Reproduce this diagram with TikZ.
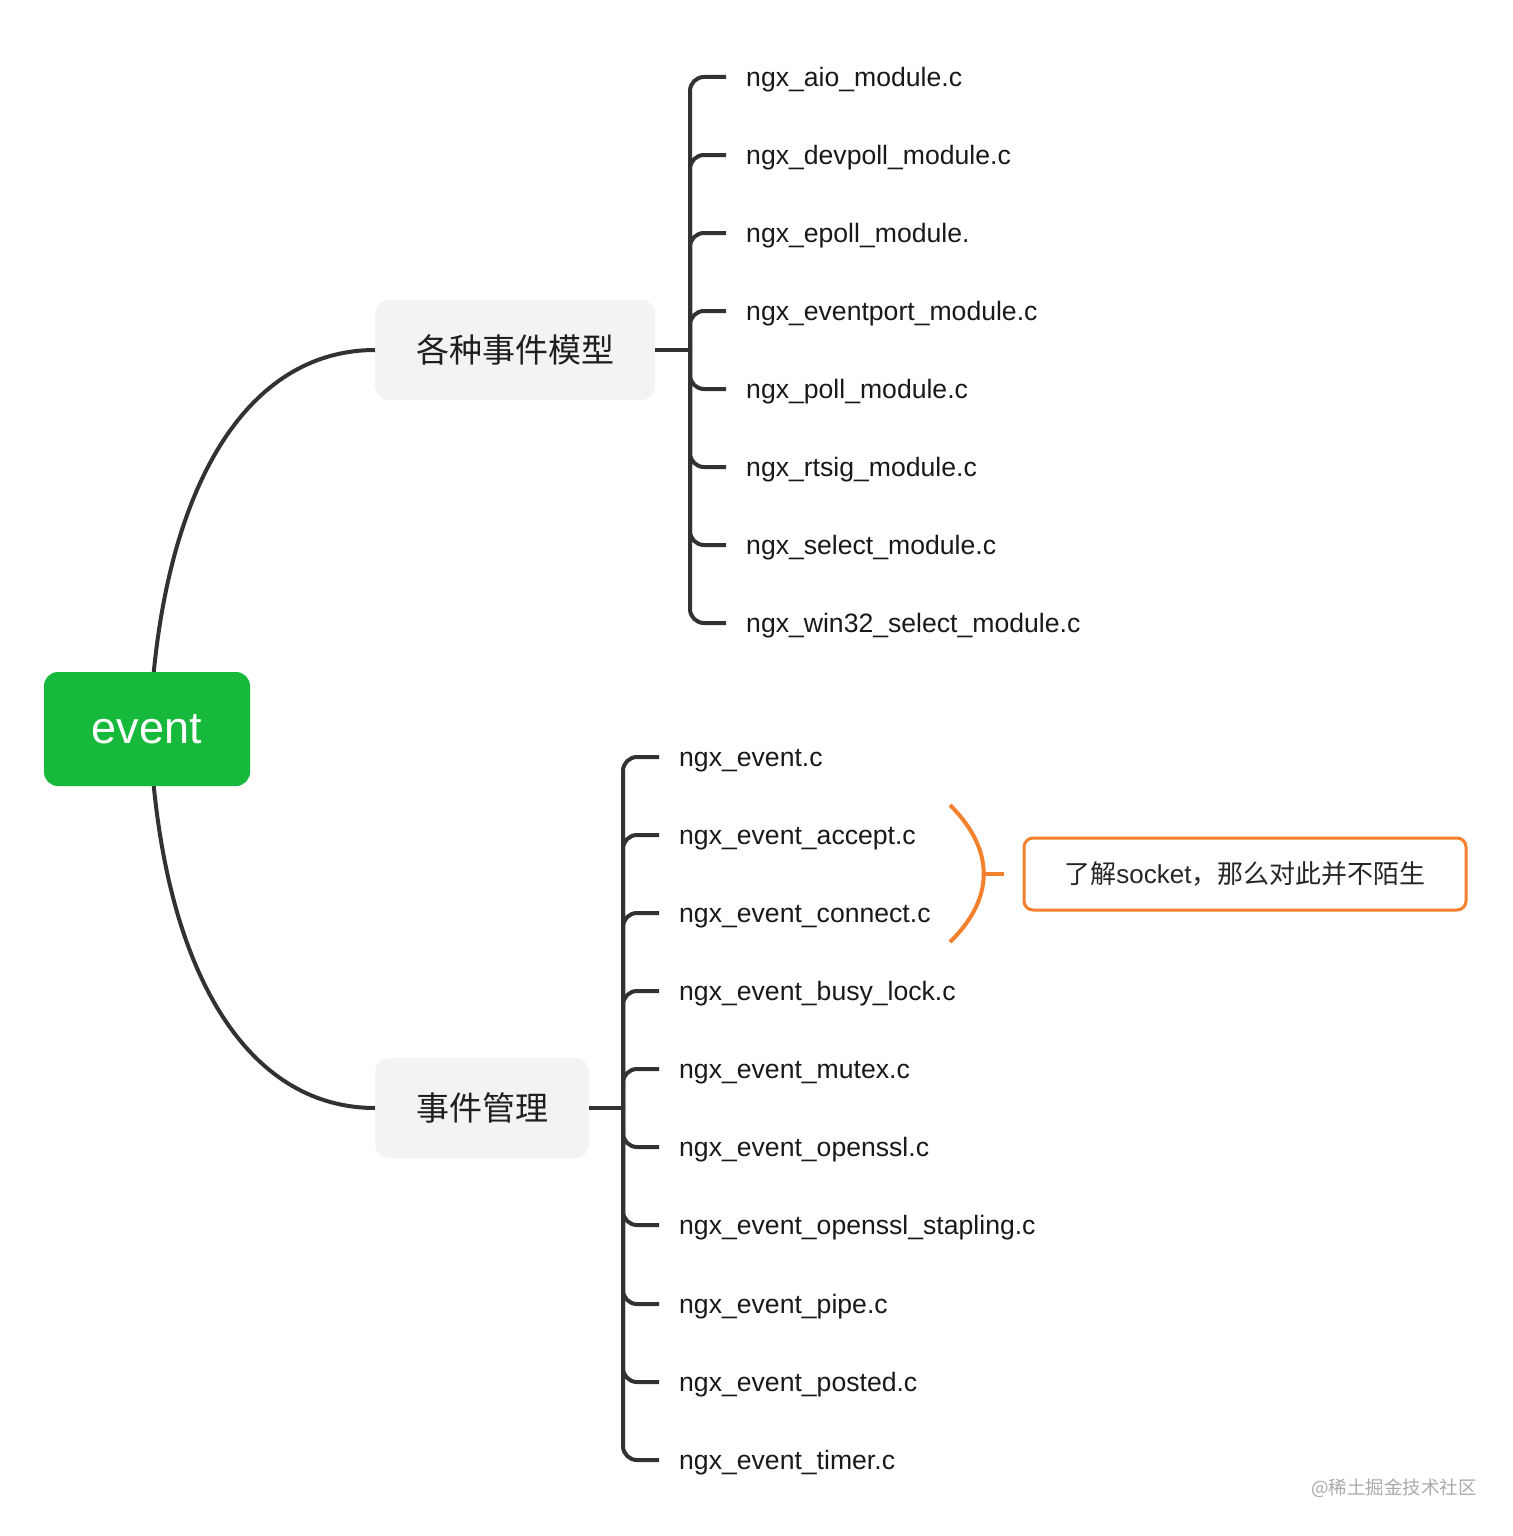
\documentclass[tikz,border=0pt]{standalone}
\usepackage{fontspec}
\setmainfont{Liberation Sans}
\newfontfamily\cjk{Noto Sans CJK SC}
\usetikzlibrary{positioning}
\definecolor{evgreen} {RGB}{22,185,60}
\definecolor{evtopic} {RGB}{242,243,245}
\definecolor{evline}  {RGB}{50,50,50}
\definecolor{evnote}  {RGB}{242,128,44}
\definecolor{evmark}  {RGB}{170,170,170}

\begin{document}
\begin{tikzpicture}[x=1pt, y=-1pt,
    topic/.style={anchor=west, rounded corners=14pt, fill=evtopic,
                  inner xsep=41pt, minimum height=100pt, text=black!88,
                  font=\cjk\fontsize{33}{40}\selectfont},
    leaf/.style={anchor=west, inner xsep=20pt, inner ysep=0pt, text=black!90,
                 text height=25.5pt, text depth=5.6pt,
                 font=\fontsize{26.6}{30}\selectfont},
    link/.style={draw=evline, line width=4pt},
    branch/.style={link, rounded corners=14pt}]
            \useasboundingbox (0,0) rectangle (1512,1536);

            % curves from root to the two topics
            \coordinate (rootN) at (153,680);
            \coordinate (rootS) at (153,778);

            % topics
            \node (models) [topic] at(375,350) {各种事件模型};
            \node (manage) [topic] at(375,1108) {事件管理};

            \draw [link] (rootN) .. controls (172,470) and (255,350) .. (models.west);
            \draw [link] (rootS) .. controls (172,988) and (255,1108) .. (manage.west);

            % root
            \node (root)
              [rounded corners=14pt, fill=evgreen, text=white,
               minimum width=206pt, minimum height=114pt,
               font=\fontsize{45}{50}\selectfont]
              at(147,729) {event};

            % event models
            \coordinate (hubA) at (690,350);
            \node (m1) [leaf] at(726,77)  {ngx\_aio\_module.c};
            \node (m2) [leaf] at(726,155) {ngx\_devpoll\_module.c};
            \node (m3) [leaf] at(726,233) {ngx\_epoll\_module.};
            \node (m4) [leaf] at(726,311) {ngx\_eventport\_module.c};
            \node (m5) [leaf] at(726,389) {ngx\_poll\_module.c};
            \node (m6) [leaf] at(726,467) {ngx\_rtsig\_module.c};
            \node (m7) [leaf] at(726,545) {ngx\_select\_module.c};
            \node (m8) [leaf] at(726,623) {ngx\_win32\_select\_module.c};

            \draw [link] (models.east) -- (hubA);
            \foreach \m in {m1,m2,m3,m4,m5,m6,m7,m8}
              \draw [branch] (hubA) |- (\m.west);

            % event management
            \coordinate (hubB) at (623,1108);
            \node (e1)  [leaf] at(659,757)  {ngx\_event.c};
            \node (e2)  [leaf] at(659,835)  {ngx\_event\_accept.c};
            \node (e3)  [leaf] at(659,913)  {ngx\_event\_connect.c};
            \node (e4)  [leaf] at(659,991)  {ngx\_event\_busy\_lock.c};
            \node (e5)  [leaf] at(659,1069) {ngx\_event\_mutex.c};
            \node (e6)  [leaf] at(659,1147) {ngx\_event\_openssl.c};
            \node (e7)  [leaf] at(659,1225) {ngx\_event\_openssl\_stapling.c};
            \node (e8)  [leaf] at(659,1304) {ngx\_event\_pipe.c};
            \node (e9)  [leaf] at(659,1382) {ngx\_event\_posted.c};
            \node (e10) [leaf] at(659,1460) {ngx\_event\_timer.c};

            \draw [link] (manage.east) -- (hubB);
            \foreach \e in {e1,e2,e3,e4,e5,e6,e7,e8,e9,e10}
              \draw [branch] (hubB) |- (\e.west);

            % note on accept / connect
            \node (note)
              [rounded corners=9pt, draw=evnote, line width=3pt, fill=white,
               minimum width=442pt, minimum height=72pt, text=black!85,
               font=\fontsize{26}{30}\selectfont]
              at(1245,874)
              {{\cjk 了解}socket{\cjk ，那么对此并不陌生}};
            \coordinate (braceA) at (950,805);
            \coordinate (braceB) at (950,942);
            \coordinate (braceM) at (984,874);
            \coordinate (noteIn) at ([xshift=-19pt]note.west);
            \draw [draw=evnote, line width=4pt]
              (braceA) .. controls (995,850) and (995,898) .. (braceB);
            \draw [draw=evnote, line width=4pt] (braceM) -- (noteIn);

            % watermark
            \node (mark) [text=evmark, font=\cjk\fontsize{18.5}{22}\selectfont]
              at(1394,1488) {@稀土掘金技术社区};
        \end{tikzpicture}
\end{document}
